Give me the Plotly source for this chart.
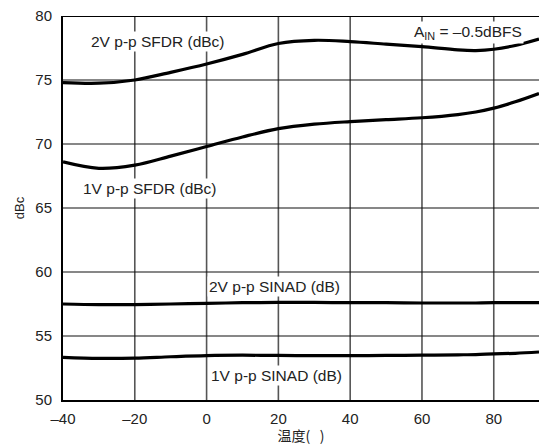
import plotly.graph_objects as go

temp = [-40, -30, -20, -10, 0, 10, 20, 30, 40, 50, 60, 70, 75, 80, 86, 92.6]
sfdr_2v = [74.8, 74.75, 75.0, 75.6, 76.25, 77.0, 77.85, 78.1, 78.0, 77.8, 77.6, 77.35, 77.3, 77.4, 77.7, 78.2]
sfdr_1v = [68.6, 68.1, 68.35, 69.05, 69.8, 70.55, 71.2, 71.55, 71.75, 71.9, 72.05, 72.3, 72.5, 72.8, 73.3, 73.95]
sinad_2v = [57.5, 57.45, 57.45, 57.5, 57.55, 57.6, 57.62, 57.62, 57.6, 57.6, 57.58, 57.58, 57.58, 57.6, 57.6, 57.6]
sinad_1v = [53.33, 53.25, 53.27, 53.38, 53.47, 53.5, 53.48, 53.47, 53.47, 53.48, 53.5, 53.53, 53.55, 53.6, 53.65, 53.75]

x_ticks = [-40, -20, 0, 20, 40, 60, 80]
x_tick_text = ["–40", "–20", "0", "20", "40", "60", "80"]
y_ticks = [50, 55, 60, 65, 70, 75, 80]

series = [sfdr_2v, sfdr_1v, sinad_2v, sinad_1v]

fig = go.Figure()
for s in series:
    fig.add_trace(go.Scatter(x=temp, y=s, mode="lines",
                             line=dict(color="black", width=3.2, shape="spline", smoothing=1.0),
                             showlegend=False, hoverinfo="skip"))

tick_font = dict(family="Liberation Sans, Arial, sans-serif", size=15, color="#222222")
lab_font = dict(family="Liberation Sans, Arial, sans-serif", size=15.5, color="#222222")

labels = [
    (-13.5, 77.97, "2V p-p SFDR (dBc)"),
    (-15.8, 66.56, "1V p-p SFDR (dBc)"),
    (18.8, 58.83, "2V p-p SINAD (dB)"),
    (19.6, 51.95, "1V p-p SINAD (dB)"),
]
for x, y, t in labels:
    fig.add_annotation(x=x, y=y, text=t, showarrow=False, font=lab_font,
                       bgcolor="white", borderpad=1, xref="x", yref="y")

fig.add_annotation(x=72.8, y=78.75, text="A<sub>IN</sub> = –0.5dBFS", showarrow=False,
                   font=lab_font, bgcolor="white", borderpad=1, xref="x", yref="y")

for xv in x_ticks[1:]:
    fig.add_shape(type="line", x0=xv, x1=xv, y0=50, y1=80, xref="x", yref="y",
                  line=dict(color="#555555", width=1.6), layer="below")
for yv in y_ticks[1:-1]:
    fig.add_shape(type="line", x0=-40, x1=92.6, y0=yv, y1=yv, xref="x", yref="y",
                  line=dict(color="#111111", width=1.1), layer="below")

fig.update_layout(
    width=539, height=445,
    margin=dict(l=63, r=0, t=16, b=45),
    plot_bgcolor="white", paper_bgcolor="white",
    font=tick_font,
    xaxis=dict(range=[-40, 92.6], tickvals=x_ticks, ticktext=x_tick_text,
               showgrid=False, zeroline=False, showline=True, linecolor="black",
               linewidth=2, mirror=False, ticks="outside", ticklen=4, tickcolor="white",
               title=dict(text="温度(   )", font=dict(family="Noto Sans CJK SC, sans-serif", size=14, color="#222222"), standoff=3)),
    yaxis=dict(range=[50, 80], tickvals=y_ticks, showgrid=False, zeroline=False,
               showline=True, linecolor="black", linewidth=2, ticks="outside", ticklen=6, tickcolor="white",
               title=dict(text="dBc", font=dict(family="Liberation Sans, Arial, sans-serif", size=13, color="#222222"), standoff=8)),
)
fig.add_shape(type="line", x0=-40, x1=92.6, y0=80, y1=80, xref="x", yref="y",
              line=dict(color="black", width=2))

fig.write_html("out.html", config={"displayModeBar": False},
               post_script="document.body.style.margin='0';document.body.style.overflow='hidden';")
